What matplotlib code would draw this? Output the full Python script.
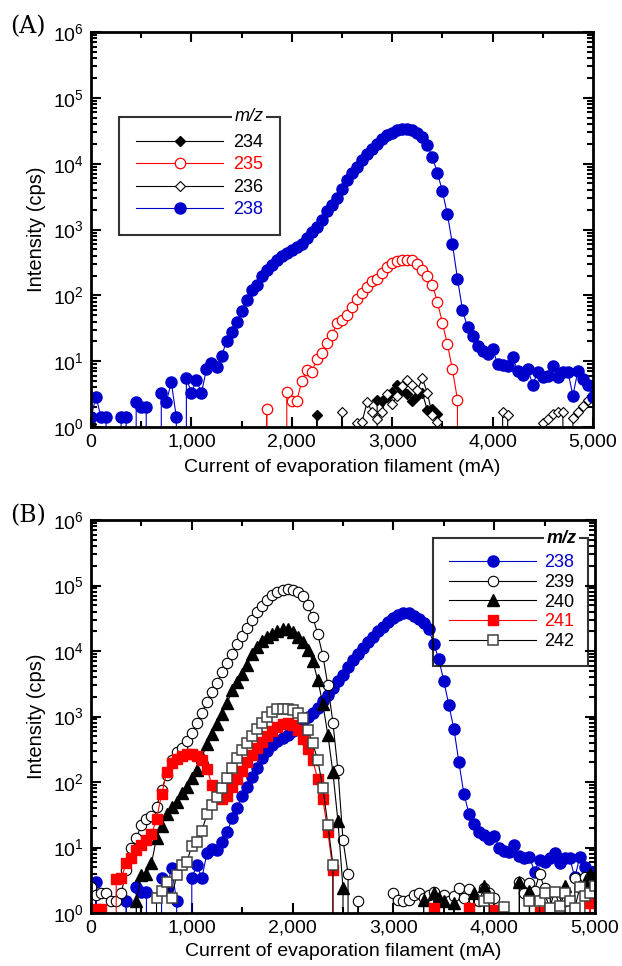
import numpy as np
import matplotlib
matplotlib.use('Agg')
import matplotlib.pyplot as plt
from matplotlib.ticker import MultipleLocator, LogLocator, FuncFormatter, NullFormatter

plt.rcParams['font.family'] = ['Liberation Sans', 'DejaVu Sans']
plt.rcParams['mathtext.fontset'] = 'custom'
plt.rcParams['mathtext.rm'] = 'Liberation Sans'
plt.rcParams['mathtext.it'] = 'Liberation Sans:italic'
plt.rcParams['mathtext.bf'] = 'Liberation Sans:bold'

# filament current, one reading every 50 mA
current = np.arange(0, 5001, 50)

# ---- panel (A) : m/z 234, 235, 236, 238 (0 = below detection) ----
a_234 = ([1.1] + [0] * 9 + [0] * 30
         + [0, 0, 0, 0, 0, 1.5, 0, 0, 0, 0]
         + [0, 0, 0, 0, 0, 0, 0, 2.6, 2.5, 2.9]
         + [3.4, 4.3, 3.7, 3.2, 2.5, 3.0, 3.3, 1.8, 1.9, 1.6]
         + [0] * 30 + [0])

a_235 = ([0] * 30
         + [0, 0, 0, 0, 0, 1.9, 0, 0, 0, 3.4]
         + [2.5, 2.5, 5.0, 7.3, 6.9, 10.8, 13.5, 19, 25, 38]
         + [42, 50, 66, 88, 110, 132, 163, 175, 220, 265]
         + [310, 327, 340, 346, 340, 295, 245, 195, 145, 80]
         + [38, 18, 7.5, 2.6, 0, 0, 0, 0, 0, 0]
         + [0] * 20 + [0])

a_236 = ([0] * 50
         + [1.7, 0, 0, 1.15, 1.2, 2.4, 1.7, 1.3, 1.7, 3.2]
         + [2.2, 3.0, 4.2, 5.2, 4.3, 3.6, 5.5, 3.3, 1.5, 1.2]
         + [0] * 10
         + [0, 0, 1.7, 1.5, 0, 0, 0, 0, 0, 0]
         + [1.15, 1.3, 1.6, 1.7, 1.7, 0, 1.35, 1.7, 2.1, 2.6]
         + [3.2])

a_238 = [1.4, 2.9, 1.4, 1.4, 0, 0, 1.4, 1.4, 0, 2.4,
         2.0, 2.0, 0, 0, 3.3, 2.4, 4.8, 1.4, 0, 5.6,
         3.3, 5.2, 3.3, 7.5, 9.5, 8.2, 12, 20, 28, 40,
         58, 85, 122, 142, 200, 245, 290, 340, 390, 435,
         485, 540, 610, 730, 925, 1100, 1390, 1900, 2350, 3000,
         4100, 5700, 7200, 9000, 11300, 13800, 16500, 20000, 23500, 26800,
         29700, 32200, 33800, 34000, 32000, 29000, 25500, 19000, 12500, 7300,
         3800, 1700, 600, 180, 60, 33, 24, 17, 14.5, 13,
         15.5, 9, 8.8, 8.5, 11.5, 7, 6.2, 7.5, 4.4, 6.9,
         5.8, 6.0, 8.3, 5.8, 6.9, 6.9, 3.0, 7.2, 5.3, 4.3,
         2.9]

# ---- panel (B) : m/z 238 - 242 ----
b_238 = [0, 3.0, 0, 0, 0, 0, 0, 1.5, 0, 2.5,
         2.1, 2.1, 0, 0, 3.4, 2.4, 4.8, 1.5, 0, 0,
         3.4, 5.4, 3.4, 8.2, 9.4, 9.0, 12, 17, 28, 40,
         62, 85, 120, 165, 230, 300, 370, 420, 470, 530,
         600, 720, 850, 1000, 1150, 1350, 1700, 2100, 2700, 3500,
         4300, 5600, 7200, 9000, 11200, 13500, 16500, 20000, 23500, 27500,
         31500, 35000, 37500, 37500, 34000, 31000, 27000, 21500, 13000, 7500,
         3500, 1500, 650, 200, 65, 33, 23, 17.5, 15.5, 13.5,
         15, 10, 8.9, 8.5, 11, 7.5, 7.0, 7.2, 4.3, 6.5,
         6.0, 6.9, 8.1, 5.8, 7.0, 6.8, 3.5, 7.2, 5.1, 4.3,
         4.3]

b_239 = [2.5, 1.9, 2.0, 2.0, 1.5, 1.5, 2.0, 4.5, 10, 14,
         22, 27, 30, 42, 75, 130, 215, 290, 330, 420,
         560, 790, 1150, 1650, 2400, 3300, 4800, 6500, 9100, 12600,
         17000, 22800, 30000, 39000, 49000, 61000, 71000, 79000, 85000, 88000,
         86000, 79000, 68500, 50000, 33000, 18000, 8500, 3000, 800, 150,
         13, 4, 0, 1.5, 0, 0, 0, 0, 0, 0,
         2.0, 1.6, 1.5, 1.6, 1.9, 2.0, 1.7, 1.9, 2.1, 1.6,
         1.9, 1.5, 1.8, 2.4, 1.7, 2.3, 1.6, 1.5, 2.4, 2.0,
         1.7, 0, 0, 0, 0, 3.0, 2.0, 2.9, 2.2, 3.9,
         2.4, 2.0, 1.6, 0, 1.5, 0, 3.4, 2.5, 3.5, 3.6,
         2.5]

b_240 = [0, 0, 0, 0, 0, 0, 0, 0, 0, 1.5,
         3.8, 4.0, 5.7, 14, 21, 33, 42, 50, 68, 85,
         115, 155, 240, 380, 550, 780, 1100, 1600, 2500, 3400,
         4500, 6200, 9000, 11500, 14000, 16500, 18500, 20000, 21500, 22000,
         19500, 16500, 13500, 10500, 7000, 3600, 1550, 520, 140, 25,
         2.4, 0, 0, 0, 0, 0, 0, 0, 0, 0,
         0, 0, 0, 0, 0, 0, 1.6, 0, 2.0, 1.7,
         1.5, 0, 1.4, 0, 0, 0, 2.0, 0, 2.6, 0,
         0, 0, 0, 0, 0, 3.0, 0, 2.2, 0, 0,
         0, 0, 0, 0, 2.6, 0, 0, 0, 3.0, 3.9,
         2.8]

b_241 = [0, 1.15, 1.15, 0, 0, 3.3, 3.4, 5.7, 6.8, 9,
         11, 13, 16, 27, 65, 140, 195, 225, 248, 265,
         268, 250, 215, 160, 90, 64, 55, 62, 85, 112,
         148, 200, 260, 330, 410, 500, 600, 680, 770, 795,
         750, 620, 460, 320, 215, 110, 55, 17, 4.5, 0,
         0, 0, 0, 0, 0, 0, 0, 0, 0, 0,
         0, 0, 0, 0, 0, 0, 0, 0, 1.2, 0,
         0, 0, 0, 0, 0, 1.2, 0, 0, 0, 0,
         1.1, 0, 0, 0, 0, 0, 0, 0, 0, 1.05,
         0, 0, 0, 0, 0, 0, 0, 0, 0, 1.4,
         0]

b_242 = [0, 0, 0, 0, 0, 0, 0, 0, 0, 0,
         0, 0, 0, 1.7, 2.2, 3.0, 1.7, 3.8, 5.5, 6.0,
         10.5, 12, 18, 32, 45, 58, 80, 115, 165, 230,
         310, 400, 510, 650, 800, 980, 1170, 1300, 1320, 1320,
         1250, 1150, 950, 620, 390, 215, 82, 22, 5.5, 0,
         0, 0, 0, 0, 0, 0, 0, 0, 0, 0,
         0, 0, 0, 0, 0, 0, 0, 0, 0, 0,
         0, 0, 0, 0, 0, 0, 0, 0, 1.5, 1.7,
         0, 0, 1.25, 0, 0, 0, 0, 1.5, 0, 1.5,
         2.0, 1.2, 2.1, 1.3, 2.0, 1.5, 1.2, 2.5, 1.8, 2.0,
         2.6]

BLUE = '#0000cc'
RED = '#ff0000'


def setup(ax, xlabelpad):
    ax.set_yscale('log')
    ax.set_xlim(0, 5000)
    ax.set_ylim(1, 1e6)
    ax.xaxis.set_major_locator(MultipleLocator(1000))
    ax.xaxis.set_minor_locator(MultipleLocator(500))
    ax.xaxis.set_major_formatter(FuncFormatter(lambda v, p: f"{int(v):,}"))
    ax.yaxis.set_major_locator(LogLocator(base=10, numticks=10))
    ax.yaxis.set_minor_locator(LogLocator(base=10, subs=np.arange(2, 10), numticks=20))
    ax.yaxis.set_minor_formatter(NullFormatter())
    ax.yaxis.set_major_formatter(FuncFormatter(
        lambda v, p: r"$\mathregular{10^{%d}}$" % int(round(np.log10(v)))))
    ax.tick_params(which='both', direction='in', top=True, right=True,
                   width=1.5, labelsize=14)
    ax.tick_params(which='major', length=7, pad=5)
    ax.tick_params(which='minor', length=4)
    for s in ax.spines.values():
        s.set_linewidth(2)
    ax.set_xlabel('Current of evaporation filament (mA)', fontsize=14,
                  labelpad=xlabelpad)
    ax.set_ylabel('Intensity (cps)', fontsize=14.5, labelpad=5)


fig = plt.figure(figsize=(6.22, 9.66), dpi=100)
ax_a = fig.add_axes([91 / 622, 1 - 427 / 966, 502 / 622, 395 / 966])
ax_b = fig.add_axes([91 / 622, 1 - 913 / 966, 504 / 622, 393 / 966])

# ===== PANEL A =====
ax_a.plot(current, a_234, color='black', lw=0.8, marker='D', ms=5.5,
          mfc='black', mec='black', label='234')
ax_a.plot(current, a_235, color=RED, lw=0.8, marker='o', ms=7.5,
          mfc='white', mec=RED, mew=0.9, label='235')
ax_a.plot(current, a_236, color='black', lw=0.8, marker='D', ms=5.5,
          mfc='white', mec='black', mew=0.8, label='236')
ax_a.plot(current, a_238, color=BLUE, lw=0.8, marker='o', ms=8,
          mfc=BLUE, mec=BLUE, label='238')
setup(ax_a, 6)

leg_a = ax_a.legend(loc='upper left', bbox_to_anchor=(0.056, 0.785, 0.32, 0),
                    mode='expand', borderaxespad=0, fontsize=13,
                    handlelength=4.8, handletextpad=0.55, borderpad=0.95,
                    labelspacing=0.3, fancybox=False, edgecolor='black',
                    facecolor='none')
leg_a.get_frame().set_linewidth(1.5)
for txt, c in zip(leg_a.get_texts(), ['black', RED, 'black', BLUE]):
    txt.set_color(c)
ax_a.text(0.315, 0.785, 'm/z', transform=ax_a.transAxes, ha='center', va='center',
          fontsize=13, style='italic', zorder=10,
          bbox=dict(boxstyle='square,pad=0.15', fc='white', ec='none'))

# ===== PANEL B =====
ax_b.plot(current, b_238, color=BLUE, lw=0.8, marker='o', ms=8,
          mfc=BLUE, mec=BLUE, label='238')
ax_b.plot(current, b_239, color='black', lw=0.8, marker='o', ms=7.5,
          mfc='white', mec='black', mew=0.8, label='239')
ax_b.plot(current, b_240, color='black', lw=0.8, marker='^', ms=8,
          mfc='black', mec='black', label='240')
ax_b.plot(current, b_241, color=RED, lw=0.8, marker='s', ms=7.5,
          mfc=RED, mec=RED, label='241')
ax_b.plot(current, b_242, color='black', lw=0.8, marker='s', ms=7.2,
          mfc='white', mec='#404040', mew=1.1, label='242')
setup(ax_b, 4)

leg_b = ax_b.legend(loc='upper left', bbox_to_anchor=(0.679, 0.954, 0.307, 0),
                    mode='expand', borderaxespad=0, fontsize=13,
                    handlelength=4.8, handletextpad=0.45, borderpad=0.9,
                    labelspacing=0.15, fancybox=False, edgecolor='black',
                    facecolor='none')
leg_b.get_frame().set_linewidth(1.5)
for txt, c in zip(leg_b.get_texts(), [BLUE, 'black', 'black', RED, 'black']):
    txt.set_color(c)
ax_b.text(0.933, 0.954, 'm/z', transform=ax_b.transAxes, ha='center', va='center',
          fontsize=13, style='italic', weight='bold', zorder=10,
          bbox=dict(boxstyle='square,pad=0.15', fc='white', ec='none'))

fig.text(28 / 622, 1 - 27 / 966, '(A)', ha='center', va='center',
         fontsize=17, family='DejaVu Serif')
fig.text(28 / 622, 1 - 516 / 966, '(B)', ha='center', va='center',
         fontsize=17, family='DejaVu Serif')

fig.savefig('out.png', dpi=100)
